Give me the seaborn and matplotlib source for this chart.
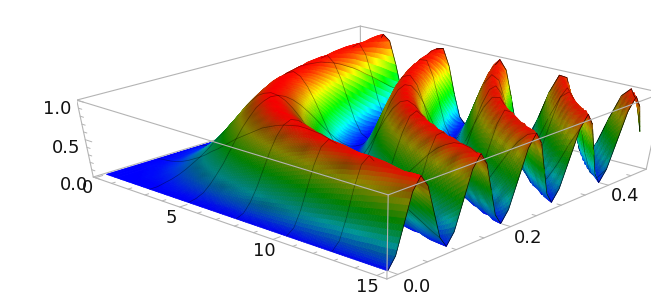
import numpy as np
import matplotlib
matplotlib.use("Agg")
import matplotlib.pyplot as plt
import seaborn as sns
from mpl_toolkits.mplot3d import proj3d
from mpl_toolkits.mplot3d.art3d import Poly3DCollection

# Grid of the surface; heights estimated from the ridge and trough positions in the picture
t_values = [0, .75, 1.125, 1.5, 1.875, 2.25, 2.625, 3, 3.375, 3.75, 4.125, 4.5, 4.875, 5.25, 5.625, 6, 6.375, 6.75, 7.125, 7.5, 7.875,
            8.25, 8.625, 9, 9.375, 9.75, 10.125, 10.5, 10.875, 11.25, 11.625, 12, 12.375, 12.75, 13.125, 13.5, 13.875, 14.25, 14.625, 15]
x_values = [0, .0125, .025, .0375, .05, .0625, .075, .0875, .1, .1125, .125, .1375, .15, .1625, .175, .1875, .2, .2125, .225, .2375,
            .25, .2625, .275, .2875, .3, .3125, .325, .3375, .35, .3625, .375, .3875, .4, .4125, .425, .4375, .45, .4625, .475]

z_00 = [0] * 39
z_01 = [0, 0, 0, 0, .01, .01, .01, .02, .02, .03, .04, .05, .05, .06, .07, .08, .10, .11, .12, .13, .15, .16, .18, .19, .21, .22, .24, .26, .27, .29, .31, .33, .35, .36, .38, .40, .42, .44, .46]
z_02 = [0, 0, 0, .01, .01, .02, .03, .04, .05, .07, .08, .10, .12, .14, .16, .18, .21, .23, .26, .28, .31, .34, .36, .39, .42, .45, .48, .51, .54, .57, .60, .63, .65, .68, .71, .73, .76, .78, .81]
z_03 = [0, 0, .01, .01, .02, .04, .05, .07, .10, .12, .15, .18, .21, .24, .27, .31, .35, .38, .42, .46, .50, .54, .58, .62, .65, .69, .73, .76, .79, .82, .85, .88, .90, .93, .95, .96, .98, .99, .99]
z_04 = [0, 0, .01, .02, .04, .06, .08, .11, .15, .18, .22, .26, .31, .35, .40, .45, .50, .55, .60, .64, .69, .73, .78, .82, .85, .88, .92, .94, .96, .98, .99, 1, 1, 1, .99, .98, .96, .94, .92]
z_05 = [0, 0, .01, .03, .05, .08, .12, .16, .21, .26, .31, .36, .42, .48, .54, .60, .65, .71, .76, .81, .85, .89, .93, .95, .98, .99, 1, 1, .99, .98, .96, .94, .90, .87, .82, .78, .73, .67, .62]
z_06 = [0, 0, .02, .04, .07, .11, .16, .21, .27, .34, .40, .47, .54, .61, .67, .73, .79, .85, .89, .93, .96, .98, 1, 1, .99, .98, .95, .92, .88, .83, .78, .72, .65, .59, .52, .45, .38, .32, .26]
z_07 = [0, .01, .02, .05, .10, .15, .21, .27, .35, .42, .50, .58, .65, .73, .79, .85, .90, .95, .98, .99, 1, .99, .98, .95, .90, .85, .79, .73, .65, .58, .50, .42, .35, .27, .21, .15, .10, .05, .02]
z_08 = [0, .01, .03, .07, .12, .18, .26, .34, .42, .51, .60, .68, .76, .83, .89, .94, .98, 1, 1, .99, .96, .92, .87, .80, .73, .64, .56, .47, .38, .30, .22, .15, .10, .05, .02, 0, 0, .02, .05]
z_09 = [0, .01, .04, .08, .15, .22, .31, .40, .50, .60, .69, .78, .85, .92, .96, .99, 1, .99, .96, .92, .85, .78, .69, .60, .50, .40, .31, .22, .15, .08, .04, .01, 0, .01, .04, .08, .15, .22, .31]
z_10 = [0, .01, .05, .10, .18, .26, .36, .47, .58, .68, .78, .86, .93, .97, 1, 1, .98, .93, .87, .78, .69, .59, .48, .37, .27, .18, .11, .05, .01, 0, .01, .04, .10, .17, .26, .35, .46, .57, .67]
z_11 = [0, .01, .05, .12, .21, .31, .42, .54, .65, .76, .85, .93, .98, 1, .99, .96, .90, .82, .73, .62, .50, .38, .27, .18, .10, .04, .01, 0, .02, .07, .15, .24, .35, .46, .58, .69, .79, .88, .95]
z_12 = [0, .02, .06, .14, .24, .35, .48, .61, .73, .83, .92, .97, 1, .99, .95, .88, .79, .68, .56, .43, .31, .20, .11, .04, .01, 0, .03, .09, .18, .28, .40, .53, .65, .77, .87, .94, .99, 1, .98]
z_13 = [0, .02, .07, .16, .27, .40, .54, .67, .79, .89, .96, 1, .99, .95, .88, .78, .65, .52, .38, .26, .15, .06, .01, 0, .02, .08, .18, .29, .42, .56, .69, .81, .90, .97, 1, .99, .95, .87, .76]
z_14 = [0, .02, .08, .18, .31, .45, .60, .73, .85, .94, .99, 1, .96, .88, .78, .64, .50, .35, .22, .11, .04, 0, .01, .06, .15, .26, .40, .55, .69, .82, .92, .98, 1, .98, .92, .82, .69, .55, .40]
z_15 = [0, .02, .10, .21, .35, .50, .65, .79, .90, .98, 1, .98, .90, .79, .65, .50, .35, .21, .10, .02, 0, .02, .10, .21, .35, .50, .65, .79, .90, .98, 1, .98, .90, .79, .65, .50, .35, .21, .10]
z_16 = [0, .03, .11, .23, .38, .55, .71, .85, .95, 1, .99, .93, .82, .68, .52, .35, .21, .09, .02, 0, .04, .13, .26, .41, .58, .73, .87, .96, 1, .98, .92, .80, .65, .49, .33, .18, .07, .01, 0]
z_17 = [0, .03, .12, .26, .42, .60, .76, .89, .98, 1, .96, .87, .73, .56, .38, .22, .10, .02, 0, .05, .15, .29, .46, .64, .79, .92, .99, 1, .95, .84, .69, .52, .35, .19, .07, .01, .01, .06, .18]
z_18 = [0, .03, .13, .28, .46, .64, .81, .93, .99, .99, .92, .78, .62, .43, .26, .11, .02, 0, .05, .15, .31, .49, .67, .83, .95, 1, .98, .90, .76, .59, .40, .23, .10, .02, 0, .06, .18, .34, .52]
z_19 = [0, .04, .15, .31, .50, .69, .85, .96, 1, .96, .85, .69, .50, .31, .15, .04, 0, .04, .15, .31, .50, .69, .85, .96, 1, .96, .85, .69, .50, .31, .15, .04, 0, .04, .15, .31, .50, .69, .85]
z_20 = [0, .04, .16, .34, .54, .73, .89, .98, .99, .92, .78, .59, .38, .20, .06, 0, .02, .13, .29, .49, .69, .86, .97, 1, .95, .82, .64, .43, .24, .09, .01, .01, .10, .25, .44, .64, .82, .95, 1]
z_21 = [0, .05, .18, .36, .58, .78, .93, 1, .98, .87, .69, .48, .27, .11, .01, .01, .10, .26, .46, .67, .85, .97, 1, .94, .79, .60, .38, .19, .05, 0, .04, .16, .35, .56, .76, .92, .99, .98, .88]
z_22 = [0, .05, .19, .39, .62, .82, .95, 1, .95, .80, .60, .37, .18, .04, 0, .06, .21, .41, .64, .83, .96, 1, .94, .78, .58, .35, .16, .03, 0, .07, .22, .43, .65, .85, .97, 1, .93, .77, .56]
z_23 = [0, .05, .21, .42, .65, .85, .98, .99, .90, .73, .50, .27, .10, .01, .02, .15, .35, .58, .79, .95, 1, .95, .79, .58, .35, .15, .02, .01, .10, .27, .50, .73, .90, .99, .98, .85, .65, .42, .21]
z_24 = [0, .06, .22, .45, .69, .88, .99, .98, .85, .64, .40, .18, .04, 0, .08, .26, .50, .73, .92, 1, .96, .82, .60, .35, .15, .02, .01, .11, .31, .55, .78, .94, 1, .94, .78, .55, .31, .11, .01]
z_25 = [0, .06, .24, .48, .73, .92, 1, .95, .79, .56, .31, .11, .01, .03, .18, .40, .65, .87, .99, .98, .85, .64, .38, .16, .02, .01, .12, .33, .58, .81, .96, 1, .90, .71, .46, .22, .05, 0, .07]
z_26 = [0, .07, .26, .51, .76, .94, 1, .92, .73, .47, .22, .05, 0, .09, .29, .55, .79, .96, 1, .90, .69, .43, .19, .03, .01, .11, .33, .59, .82, .97, .99, .87, .65, .39, .16, .02, .01, .14, .36]
z_27 = [0, .07, .27, .54, .79, .96, .99, .88, .65, .38, .15, .01, .02, .18, .42, .69, .90, 1, .95, .76, .50, .24, .05, 0, .10, .31, .58, .82, .98, .99, .85, .62, .35, .12, .01, .04, .21, .46, .73]
z_28 = [0, .08, .29, .57, .82, .98, .98, .83, .58, .30, .08, 0, .07, .28, .56, .82, .98, .98, .84, .59, .31, .09, 0, .07, .27, .55, .81, .97, .99, .85, .60, .32, .10, 0, .06, .26, .54, .80, .97]
z_29 = [0, .08, .31, .60, .85, .99, .96, .78, .50, .22, .04, .01, .15, .40, .69, .92, 1, .92, .69, .40, .15, .01, .04, .22, .50, .78, .96, .99, .85, .60, .31, .08, 0, .08, .31, .60, .85, .99, .96]
z_30 = [0, .09, .33, .63, .88, 1, .94, .72, .42, .15, .01, .04, .24, .53, .81, .98, .98, .80, .52, .23, .04, .01, .16, .43, .73, .94, 1, .87, .62, .32, .08, 0, .10, .34, .64, .88, 1, .93, .71]
z_31 = [0, .10, .35, .65, .90, 1, .90, .65, .35, .10, 0, .10, .35, .65, .90, 1, .90, .65, .35, .10, 0, .10, .35, .65, .90, 1, .90, .65, .35, .10, 0, .10, .35, .65, .90, 1, .90, .65, .35]
z_32 = [0, .10, .36, .68, .93, 1, .87, .59, .27, .05, .01, .17, .46, .77, .97, .98, .79, .49, .19, .02, .04, .25, .56, .85, .99, .94, .71, .39, .12, 0, .08, .34, .65, .91, 1, .88, .62, .30, .06]
z_33 = [0, .11, .38, .71, .95, .99, .82, .52, .21, .02, .04, .26, .58, .87, 1, .92, .65, .33, .07, 0, .15, .44, .76, .97, .98, .78, .46, .16, .01, .06, .31, .64, .90, 1, .88, .60, .27, .05, .01]
z_34 = [0, .11, .40, .73, .96, .98, .78, .45, .15, 0, .08, .35, .69, .94, .99, .82, .50, .18, .01, .06, .31, .64, .92, 1, .85, .55, .22, .02, .04, .26, .60, .88, 1, .88, .60, .26, .04, .02, .22]
z_35 = [0, .12, .42, .76, .98, .96, .73, .38, .10, 0, .15, .46, .79, .99, .95, .69, .35, .07, .01, .18, .50, .82, .99, .93, .65, .31, .05, .01, .21, .54, .85, 1, .90, .62, .27, .04, .02, .24, .58]
z_36 = [0, .13, .44, .78, .99, .94, .67, .32, .05, .02, .22, .57, .88, 1, .87, .55, .21, .01, .06, .34, .69, .95, .98, .77, .42, .11, 0, .14, .46, .80, .99, .93, .65, .30, .05, .02, .24, .59, .89]
z_37 = [0, .13, .46, .81, .99, .92, .62, .26, .02, .05, .31, .67, .95, .98, .76, .40, .10, 0, .18, .52, .85, 1, .88, .56, .21, .01, .07, .36, .73, .97, .96, .71, .35, .06, .01, .22, .58, .89, 1]
z_38 = [0, .14, .48, .83, 1, .88, .56, .20, .01, .09, .40, .77, .99, .93, .64, .26, .02, .05, .33, .70, .96, .97, .71, .34, .05, .02, .26, .63, .93, .99, .78, .41, .10, 0, .19, .55, .88, 1, .84]
z_39 = [0, .15, .50, .85, 1, .85, .50, .15, 0, .15, .50, .85, 1, .85, .50, .15, 0, .15, .50, .85, 1, .85, .50, .15, 0, .15, .50, .85, 1, .85, .50, .15, 0, .15, .50, .85, 1, .85, .50]

z_rows = [z_00, z_01, z_02, z_03, z_04, z_05, z_06, z_07, z_08, z_09, z_10, z_11, z_12, z_13, z_14, z_15, z_16, z_17, z_18, z_19,
          z_20, z_21, z_22, z_23, z_24, z_25, z_26, z_27, z_28, z_29, z_30, z_31, z_32, z_33, z_34, z_35, z_36, z_37, z_38, z_39]

t_ticks = [0, 5, 10, 15]
x_ticks = [0.0, 0.2, 0.4]
z_ticks = [0.0, 0.5, 1.0]
t_minor = list(range(0, 16))
x_minor = [0, .05, .1, .15, .2, .25, .3, .35, .4, .45]
z_minor = [0, .1, .2, .3, .4, .5, .6, .7, .8, .9, 1]

mesh_t = [2.625, 4.875, 7.5, 10.125, 12.375]
mesh_x = [.0875, .1625, .25, .3375, .4125]

T_LIM = (-.13, 15.46)
X_LIM = (-.018, .485)
Z_LIM = (0, 1)
ELEV, AZIM, ROLL = 32.515, -47.67, -.086
FOCAL = .48
BOX = (2.4982, 2.4965, 1)

sns.set_theme(style="white")
plt.rcParams["font.family"] = ["DejaVu Sans"]

cmap = sns.blend_palette(["#0000ff", "#00ffff", "#00ff00", "#ffff00", "#ff0000"], n_colors=256, as_cmap=True)

fig = plt.figure(figsize=(6.64, 3), dpi=100)
ax = fig.add_subplot(111, projection="3d", computed_zorder=False)
ax.apply_aspect = lambda position=None: None
ax.set_position([76.75 / 664, -1.89 / 300, 574.67 / 664, 323.24 / 300])
ax.set_axis_off()
ax.patch.set_visible(False)
ax.set_proj_type("persp", focal_length=FOCAL)
ax.view_init(ELEV, AZIM, ROLL)
ax.set_box_aspect(BOX)
ax.set_xlim(*T_LIM, view_margin=0)
ax.set_ylim(*X_LIM, view_margin=0)
ax.set_zlim(*Z_LIM, view_margin=0)
ax.set_xticks([])
ax.set_yticks([])
ax.set_zticks([])

t = np.array(t_values)
x = np.array(x_values)
z = np.array(z_rows, dtype=float)
t0, t1 = T_LIM
x0, x1 = X_LIM
z0, z1 = Z_LIM

# darkening per grid point, from how much the surface faces along x; ridges and floors stay bright
ba = np.array(ax._box_aspect)
dzt = np.gradient(z, t, axis=0) * (t1 - t0) / ba[0] * ba[2]
dzx = np.gradient(z, x, axis=1) * (x1 - x0) / ba[1] * ba[2]
norm = np.sqrt(1 + dzt ** 2 + dzx ** 2)
dark = np.where(dzx >= 0, dzx, np.maximum(0, -dzx - .5 * np.abs(dzt))) / norm
dark = np.minimum(1, dark / .6) * np.minimum(1, (1.02 - z) / .14) * np.minimum(1, (z + .02) / .2)
shade = 1 - .5 * dark


def split_facets(a, along, parts):
    # each facet is only cut into parts so its colour can run as a gradient across it
    n = a.shape[along]
    pos = np.linspace(0, n - 1, (n - 1) * parts + 1)
    return np.apply_along_axis(lambda s: np.interp(pos, np.arange(n), s), along, a)


T, X = np.meshgrid(t, x, indexing="ij")
ft, fx, fz, fs = [split_facets(split_facets(a, 0, 3), 1, 5) for a in (T, X, z, shade)]
verts, faces, edges = [], [], []
for j in range(ft.shape[0] - 1):
    for k in range(ft.shape[1] - 1):
        jj = [j, j + 1, j + 1, j]
        kk = [k, k, k + 1, k + 1]
        rgba = np.array(cmap(fz[jj, kk].mean()))
        rgba[:3] *= fs[jj, kk].mean()
        verts.append(list(zip(ft[jj, kk], fx[jj, kk], fz[jj, kk])))
        faces.append(rgba)
        edges.append(rgba)

# mesh lines sit in the same collection so the facets in front hide them;
# they are moved a little along the view ray so they sort ahead of their own facets
el, az = np.radians(ELEV), np.radians(AZIM)
eye = .5 * ba + ax._dist * FOCAL * np.array([np.cos(el) * np.cos(az), np.cos(el) * np.sin(az), np.sin(el)])
lo = np.array([t0, x0, z0])
span = np.array([t1 - t0, x1 - x0, z1 - z0])
nudge = .05


def toward_eye(p):
    b = (np.array(p) - lo) / span * ba
    b = b + (eye - b) / np.linalg.norm(eye - b) * nudge
    return tuple(b / ba * span + lo)


def add_line(points, color):
    for a, b in zip(points[:-1], points[1:]):
        verts.append([toward_eye(a), toward_eye(b)])
        faces.append((0, 0, 0, 0))
        edges.append(color)


for v in mesh_t:
    j = t_values.index(v)
    add_line(list(zip(T[j], X[j], z[j])), (0, 0, 0, .4))
for v in mesh_x:
    k = x_values.index(v)
    add_line(list(zip(T[:, k], X[:, k], z[:, k])), (0, 0, 0, .4))
add_line(list(zip(T[-1], X[-1], z[-1])), (0, 0, 0, .85))
add_line(list(zip(T[:, -1], X[:, -1], z[:, -1])), (0, 0, 0, .85))

surface = Poly3DCollection(verts, facecolors=np.array(faces), edgecolors=np.array(edges), linewidths=.5, zorder=2)
ax.add_collection3d(surface, autolim=False)

# bounding box, rear edges under the surface and front edges over it
box_color = "#b4b4b4"
rear = [((t0, x0, z0), (t0, x1, z0)), ((t0, x1, z0), (t1, x1, z0)), ((t0, x1, z0), (t0, x1, z1)),
        ((t0, x0, z1), (t0, x1, z1)), ((t0, x1, z1), (t1, x1, z1))]
front = [((t0, x0, z0), (t1, x0, z0)), ((t1, x0, z0), (t1, x1, z0)), ((t0, x0, z0), (t0, x0, z1)),
         ((t1, x0, z0), (t1, x0, z1)), ((t1, x1, z0), (t1, x1, z1)), ((t0, x0, z1), (t1, x0, z1)), ((t1, x0, z1), (t1, x1, z1))]
for a, b in rear:
    ax.plot(*zip(a, b), color=box_color, lw=.8, zorder=1)
for a, b in front:
    ax.plot(*zip(a, b), color=box_color, lw=.8, zorder=3)

# ticks
for v in t_minor:
    ln = .012 if v in t_ticks else .006
    ax.plot([v, v], [x0, x0 + ln], [z0, z0], color=box_color, lw=.7, zorder=3)
for v in x_minor:
    ln = .4 if v in (0, .2, .4) else .2
    ax.plot([t1, t1 - ln], [v, v], [z0, z0], color=box_color, lw=.7, zorder=3)
for v in z_minor:
    ln = .4 if v in z_ticks else .2
    ax.plot([t0, t0 + ln], [x0, x0], [v, v], color=box_color, lw=.7, zorder=3)


# tick labels, placed through the 3D projection
def label(tv, xv, zv, text, ha):
    px, py, _ = proj3d.proj_transform(tv, xv, zv, ax.get_proj())
    ax.text2D(px, py, text, transform=ax.transData, ha=ha, va="center", fontsize=13, color="#111111", zorder=4)


for v in t_ticks:
    label(v, x0 - .015, z0 - .1, str(v), "center")
for v in x_ticks:
    label(t1 + .85, v, z0 - .08, f"{v:.1f}", "center")
for v in z_ticks:
    label(t0 - .45, x0, v - .14, f"{v:.1f}", "right")

fig.savefig("out.png", dpi=100)
